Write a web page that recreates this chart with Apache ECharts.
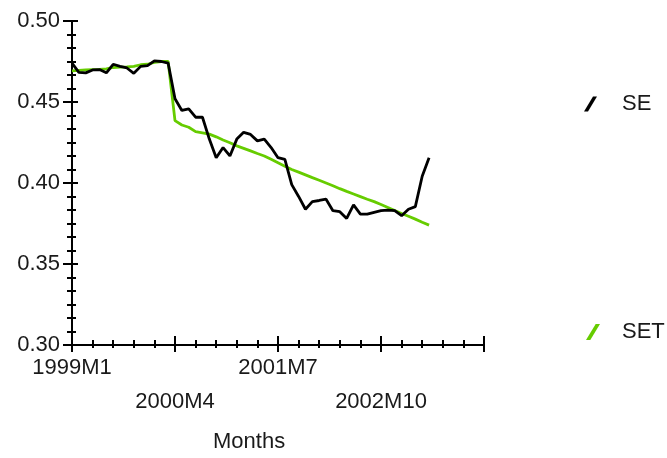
<!DOCTYPE html>
<html>
<head>
<meta charset="utf-8">
<script src="https://cdn.jsdelivr.net/npm/echarts@6/dist/echarts.min.js"></script>
<style>html,body{margin:0;padding:0;background:#fff;}#c{width:667px;height:458px;}</style>
</head>
<body>
<div id="c"></div>
<script>
// Months from 1999M1; index 0 = 1999M1
var startYear = 1999;
var topRowLabels = {0: '1999M1', 30: '2001M7'};
var bottomRowLabels = {15: '2000M4', 45: '2002M10'};
var yTicks = [0.30, 0.35, 0.40, 0.45, 0.50];

var seValues = [
  0.4740, 0.4683, 0.4680, 0.4698, 0.4700, 0.4680, 0.4733, 0.4720, 0.4710, 0.4677,
  0.4720, 0.4725, 0.4754, 0.4750, 0.4740, 0.4520, 0.4448, 0.4458, 0.4406, 0.4406,
  0.4271, 0.4156, 0.4219, 0.4167, 0.4271, 0.4313, 0.4300, 0.4260, 0.4271, 0.4219,
  0.4156, 0.4146, 0.3990, 0.3917, 0.3838, 0.3885, 0.3892, 0.3900, 0.3829, 0.3823,
  0.3781, 0.3865, 0.3808, 0.3808, 0.3819, 0.3829, 0.3833, 0.3829, 0.3798, 0.3838,
  0.3854, 0.4042, 0.4156
];
var setValues = [
  0.4692, 0.4695, 0.4698, 0.4700, 0.4702, 0.4705, 0.4713, 0.4715, 0.4717, 0.4720,
  0.4730, 0.4733, 0.4745, 0.4750, 0.4750, 0.4385, 0.4358, 0.4344, 0.4317, 0.4310,
  0.4302, 0.4285, 0.4265, 0.4248, 0.4229, 0.4214, 0.4198, 0.4182, 0.4167, 0.4146,
  0.4125, 0.4104, 0.4083, 0.4067, 0.4050, 0.4033, 0.4017, 0.4000, 0.3983, 0.3965,
  0.3948, 0.3932, 0.3916, 0.3900, 0.3885, 0.3867, 0.3849, 0.3830, 0.3812, 0.3795,
  0.3777, 0.3758, 0.3740
];

var FONT = "'Liberation Sans', Arial, sans-serif";
var TXT = '#1a1a1a';
function pairs(arr){ return arr.map(function(v,i){ return [i, v]; }); }

var chart = echarts.init(document.getElementById('c'), null, {renderer:'canvas'});
var axisLine = {show:true, lineStyle:{color:'#000', width:2}};
var tickStyle = {color:'#000', width:2};
var xBase = {type:'value', min:0, max:60, interval:15, position:'bottom', splitLine:{show:false}, minorSplitLine:{show:false}, gridIndex:0};
var yBase = {type:'value', min:0.30, max:0.50, interval:0.05, position:'left', splitLine:{show:false}, minorSplitLine:{show:false}, gridIndex:0};
var slash = 'path://M0,15 L4,15 L13,0 L9,0 Z';

chart.setOption({
  animation:false,
  backgroundColor:'#fff',
  grid:{left:72, top:21, right:183, bottom:113, containLabel:false},
  title:{text:'Months', left:213, top:431, padding:0, textStyle:{fontFamily:FONT, fontSize:22, fontWeight:'normal', color:TXT}},
  legend:[
    {data:['SE'], left:584, top:93, padding:0, orient:'vertical', icon:slash, itemWidth:13, itemHeight:15,
     textStyle:{fontFamily:FONT, fontSize:22, color:TXT, padding:[0,0,0,20]}, selectedMode:false},
    {data:['SET'], left:586, top:321, padding:0, orient:'vertical', icon:slash, itemWidth:14, itemHeight:17,
     textStyle:{fontFamily:FONT, fontSize:22, color:TXT, padding:[0,0,0,17]}, selectedMode:false}
  ],
  xAxis:[
    Object.assign({}, xBase, {
      axisLine:axisLine,
      axisTick:{show:true, inside:false, length:7, lineStyle:tickStyle},
      minorTick:{show:true, splitNumber:5, length:3, lineStyle:tickStyle},
      axisLabel:{show:true, margin:12, fontFamily:FONT, fontSize:22, color:TXT,
        formatter:function(v){ return topRowLabels[Math.round(v)] || ''; }}
    }),
    Object.assign({}, xBase, {
      axisLine:{show:false},
      axisTick:{show:true, inside:true, length:9, lineStyle:tickStyle},
      minorTick:{show:true, splitNumber:5, length:5, lineStyle:tickStyle},
      axisLabel:{show:true, margin:46, fontFamily:FONT, fontSize:22, color:TXT,
        formatter:function(v){ return bottomRowLabels[Math.round(v)] || ''; }}
    })
  ],
  yAxis:[
    Object.assign({}, yBase, {
      axisLine:axisLine,
      axisTick:{show:true, inside:false, length:9, lineStyle:tickStyle},
      minorTick:{show:true, splitNumber:6, length:5, lineStyle:tickStyle},
      axisLabel:{show:true, margin:12, fontFamily:FONT, fontSize:22, color:TXT,
        formatter:function(v){ return v.toFixed(2); }}
    }),
    Object.assign({}, yBase, {
      axisLine:{show:false},
      axisTick:{show:true, inside:true, length:6, lineStyle:tickStyle},
      minorTick:{show:true, splitNumber:6, length:4, lineStyle:tickStyle},
      axisLabel:{show:false}
    })
  ],
  series:[
    {name:'SE', type:'line', xAxisIndex:0, yAxisIndex:0, data:pairs(seValues), showSymbol:false, symbol:'none',
     lineStyle:{color:'#000', width:2.8}, itemStyle:{color:'#000'}, z:3},
    {name:'SET', type:'line', xAxisIndex:0, yAxisIndex:0, data:pairs(setValues), showSymbol:false, symbol:'none',
     lineStyle:{color:'#66cc00', width:2.8}, itemStyle:{color:'#66cc00'}, z:2}
  ]
});
</script>
</body>
</html>
